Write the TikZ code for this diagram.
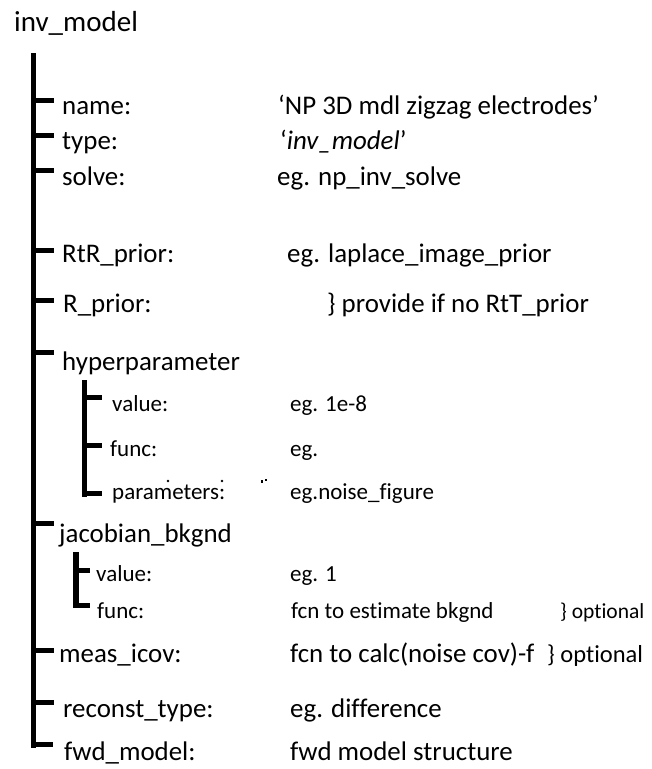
\documentclass[tikz,border=0pt]{standalone}
\usepackage{fontspec}
\setmainfont{Carlito}[Ligatures=NoCommon]
\begin{document}
\begin{tikzpicture}[x=1pt,y=-1pt,
  titlelbl/.style={anchor=base west, inner sep=0pt, font=\fontsize{29}{34}\selectfont},
  lbl/.style={anchor=base west, inner sep=0pt, font=\fontsize{26.9}{31}\selectfont},
  sublbl/.style={anchor=base west, inner sep=0pt, font=\fontsize{23}{27}\selectfont},
  optlbl/.style={anchor=base west, inner sep=0pt, font=\fontsize{21.5}{25}\selectfont},
  optbig/.style={anchor=base west, inner sep=0pt, font=\fontsize{24.5}{28}\selectfont},
  treebar/.style={line width=5.5pt},
  treetick/.style={line width=5pt}]
\useasboundingbox (0,0) rectangle (652,769);

% title
\node[titlelbl] (title) at (14,31) {inv\_model};

% main tree
\coordinate (mtop) at (33.5,53);
\coordinate (mbot) at (33.5,748);
\draw[treebar] (mtop) -- (mbot);
\foreach \yy/\nm in {100/name,135/type,170/solve,250/rtr,300/rp,352/hyp,523/jac,650/meas,702/rec}{
  \coordinate (t\nm a) at (33.5,\yy);
  \coordinate (t\nm b) at (54,\yy);
  \draw[treetick] (t\nm a) -- (t\nm b);
}
\coordinate (tfwda) at (30.75,744);
\coordinate (tfwdb) at (53,744);
\draw[treetick] (tfwda) -- (tfwdb);

% hyperparameter sub-tree
\coordinate (htop) at (84.5,380);
\coordinate (hbot) at (84.5,497);
\draw[treebar] (htop) -- (hbot);
\foreach \yy/\nm in {397/hv,445/hf}{
  \coordinate (t\nm a) at (84.5,\yy);
  \coordinate (t\nm b) at (102,\yy);
  \draw[treetick] (t\nm a) -- (t\nm b);
}
\coordinate (thpa) at (81.75,493);
\coordinate (thpb) at (102,493);
\draw[treetick] (thpa) -- (thpb);

% jacobian sub-tree
\coordinate (jtop) at (76,552);
\coordinate (jbot) at (76,608);
\draw[treebar] (jtop) -- (jbot);
\coordinate (tjva) at (76,570);
\coordinate (tjvb) at (90,570);
\draw[treetick] (tjva) -- (tjvb);
\coordinate (tjfa) at (73.25,605);
\coordinate (tjfb) at (90,605);
\draw[treetick] (tjfa) -- (tjfb);

% labels
\node[lbl] (name) at (62,114) {name:};
\node[lbl] (namev) at (278,114) {‘NP 3D mdl zigzag electrodes’};
\node[lbl] (type) at (62,149) {type:};
\node[lbl] (typev) at (280,149) {‘\textit{inv\_model}’};
\node[lbl] (solve) at (62,185) {solve:};
\node[lbl] (solvev) at (277,185) {eg. np\_inv\_solve};
\node[lbl] (rtr) at (62,262) {RtR\_prior:};
\node[lbl] (rtrv) at (287,262) {eg. laplace\_image\_prior};
\node[lbl] (rp) at (63,312) {R\_prior:};
\node[lbl] (rpv) at (327,312) {\} provide if no RtT\_prior};
\node[lbl] (hyp) at (62,370) {hyperparameter};
\node[sublbl] (hv) at (112,411) {value:};
\node[sublbl] (hvv) at (290,411) {eg. 1e-8};
\node[sublbl] (hf) at (110,456) {func:};
\node[sublbl] (hfv) at (290,456) {eg.};
\node[sublbl] (hp) at (112,499) {parameters:};
\node[sublbl] (hpv) at (290,499) {eg.noise\_figure};
% clipped fragments above "parameters:"
\fill (168,481) circle (1.3);
\fill (222,481) circle (1.3);
\fill (261,479.8) rectangle (263.4,482.5);
\fill (264.6,478.8) rectangle (266.8,480.6);
\node[lbl] (jac) at (59,542) {jacobian\_bkgnd};
\node[sublbl] (jv) at (96,581) {value:};
\node[sublbl] (jvv) at (290,581) {eg. 1};
\node[sublbl] (jf) at (97,618) {func:};
\node[sublbl] (jfv) at (291,618) {fcn to estimate bkgnd};
\node[optlbl] (jfo) at (560,618) {\} optional};
\node[lbl] (meas) at (59,662) {meas\_icov:};
\node[lbl] (measv) at (290,662) {fcn to calc(noise cov)-f};
\node[optbig] (measo) at (547,662) {\} optional};
\node[lbl] (rec) at (63,717) {reconst\_type:};
\node[lbl] (recv) at (290,717) {eg. difference};
\node[lbl] (fwd) at (64,760) {fwd\_model:};
\node[lbl] (fwdv) at (290,760) {fwd model structure};
\end{tikzpicture}
\end{document}
